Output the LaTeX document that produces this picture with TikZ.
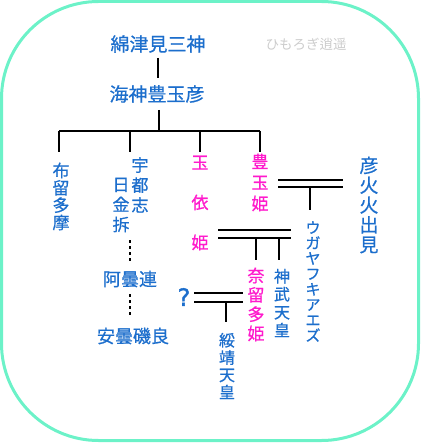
\documentclass[tikz,border=0pt]{standalone}
\usepackage{fontspec}
\newfontfamily\jp[FakeBold=0.7]{Noto Sans CJK JP}
\newfontfamily\jplight{Noto Sans CJK JP}
\newfontfamily\qfont[FakeBold=1.5]{DejaVu Sans}
\definecolor{frame}{HTML}{6CF2C8}
\definecolor{nblue}{HTML}{1C6ECC}
\definecolor{nmag}{HTML}{FF1ACC}
\definecolor{wm}{HTML}{CCCCCC}
\tikzset{
  lbl/.style={inner sep=0pt, align=center, text=nblue},
  fem/.style={lbl, text=nmag},
  fs/.style 2 args={font={\jp\fontsize{#1}{#2}\selectfont}},
  tie/.style={line width=2pt, black},
  dots/.style={line width=2pt, black, dash pattern=on 3pt off 3pt},
}
\begin{document}
\begin{tikzpicture}[x=1pt, y=-1pt]
\useasboundingbox (0,0) rectangle (421,443);
\draw[frame, line width=3pt, rounded corners=97pt] (1.5,1.5) rectangle (418.5,440.5);

% title and watermark
\node[lbl, fs={19}{22}] (wata) at (158,44) {綿津見三神};
\node[lbl, font={\jplight\fontsize{13.5}{16}\selectfont}, text=wm] (mark) at (306,44) {ひもろぎ逍遥};
\node[lbl, fs={19}{22}] (toyo) at (157,94) {海神豊玉彦};

% children
\node[lbl, fs={17}{17.3}] (furu) at (61,196.5) {布\\留\\多\\摩};
\node[lbl, fs={17}{20}] (utsu) at (140,185) {宇\\都\\志};
\node[lbl, fs={17}{20}] (hika) at (121,205) {日\\金\\拆};
\node[fem, fs={17}{40}] (tama) at (200,203) {玉\\依\\姫};
\node[fem, fs={17}{21}] (toyh) at (260,182.5) {豊\\玉\\姫};
\node[lbl, fs={19}{19.8}] (hoho) at (369,205) {彦\\火\\火\\出\\見};
\node[lbl, fs={15}{15.4}] (ugay) at (313,281.5) {ウ\\ガ\\ヤ\\フ\\キ\\ア\\エ\\ズ};
\node[lbl, fs={18}{20}] (azum) at (130,279) {阿曇連};
\node[lbl, fs={18}{20}] (isor) at (133,336) {安曇磯良};
\node[fem, fs={17}{19.3}] (naru) at (256,304.5) {奈\\留\\多\\姫};
\node[lbl, fs={16}{18}] (jimm) at (282,303) {神\\武\\天\\皇};
\node[lbl, fs={16}{17.3}] (suiz) at (227,366) {綏\\靖\\天\\皇};
\node[lbl, font={\qfont\fontsize{24}{26}\selectfont}] (unk) at (184,297) {?};

% junction coordinates
\coordinate (a1) at (158,58);  \coordinate (a2) at (158,78);
\coordinate (b1) at (159,110); \coordinate (b2) at (159,131);
\coordinate (h1) at (59,131);  \coordinate (h2) at (260,131);
\coordinate (d1) at (59,131);  \coordinate (e1) at (59,152);
\coordinate (d2) at (130,131); \coordinate (e2) at (130,152);
\coordinate (d3) at (200,131); \coordinate (e3) at (200,152);
\coordinate (d4) at (260,131); \coordinate (e4) at (260,152);

\draw[tie] (a1) -- (a2);
\draw[tie] (b1) -- (b2);
\draw[tie] (h1) -- (h2);
\foreach \i in {1,2,3,4} \draw[tie] (d\i) -- (e\i);

% marriage 1: 豊玉姫 = 彦火火出見
\coordinate (m1a) at (278,180); \coordinate (m1b) at (343,180);
\coordinate (m1c) at (278,187); \coordinate (m1d) at (343,187);
\coordinate (m1s) at (310,187); \coordinate (m1e) at (310,210);
\draw[tie] (m1a) -- (m1b);
\draw[tie] (m1c) -- (m1d);
\draw[tie] (m1s) -- (m1e);

% marriage 2: 玉依姫 = ウガヤフキアエズ
\coordinate (m2a) at (218,230); \coordinate (m2b) at (291,230);
\coordinate (m2c) at (218,238); \coordinate (m2d) at (291,238);
\coordinate (m2s) at (256,238); \coordinate (m2e) at (256,260);
\coordinate (m2t) at (279,238); \coordinate (m2f) at (279,260);
\draw[tie] (m2a) -- (m2b);
\draw[tie] (m2c) -- (m2d);
\draw[tie] (m2s) -- (m2e);
\draw[tie] (m2t) -- (m2f);

% marriage 3: ? = 奈留多姫
\coordinate (m3a) at (194,293); \coordinate (m3b) at (243,293);
\coordinate (m3c) at (194,302); \coordinate (m3d) at (243,302);
\coordinate (m3s) at (226,302); \coordinate (m3e) at (226,322);
\draw[tie] (m3a) -- (m3b);
\draw[tie] (m3c) -- (m3d);
\draw[tie] (m3s) -- (m3e);

% dotted descent
\coordinate (p1) at (130,240); \coordinate (p2) at (130,263);
\coordinate (p3) at (130,294); \coordinate (p4) at (130,317);
\draw[dots] (p1) -- (p2);
\draw[dots] (p3) -- (p4);
\end{tikzpicture}
\end{document}
